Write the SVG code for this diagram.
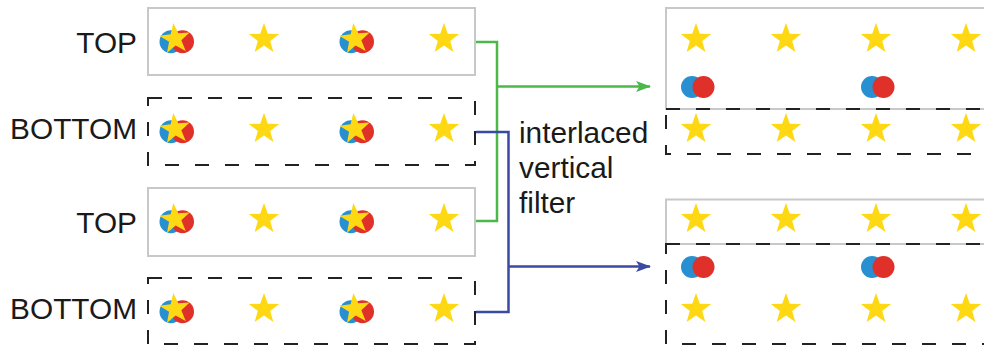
<svg xmlns="http://www.w3.org/2000/svg" xmlns:xlink="http://www.w3.org/1999/xlink" width="984" height="345" viewBox="0 0 984 345">
<style>
  .lbl { font-family: "Liberation Sans", Arial, sans-serif; font-size: 29.8px; fill: #1a1a1a; }
  .solid { fill: none; stroke: #c8c8c8; stroke-width: 2; }
  .dash { fill: none; stroke: #222; stroke-width: 2; stroke-dasharray: 14 16; }
  .star { fill: #ffd814; }
  .cb { fill: #2890d0; }
  .cr { fill: #e0302a; }
  .green { fill: none; stroke: #4cb848; stroke-width: 2.5; }
  .blue { fill: none; stroke: #3a4aa2; stroke-width: 2.5; }
</style>
<defs>
  <path id="star" d="M0,-16 L3.82,-5.26 L15.22,-4.94 L6.18,2.01 L9.4,12.94 L0,6.5 L-9.4,12.94 L-6.18,2.01 L-15.22,-4.94 L-3.82,-5.26 Z"/>
  <g id="mix">
    <circle class="cb" cx="-4" cy="2.7" r="11.5"/>
    <circle class="cr" cx="7.5" cy="2.7" r="11.5"/>
    <use xlink:href="#star" class="star" transform="rotate(-6)"/>
  </g>
  <g id="pair">
    <circle class="cb" cx="0" cy="0" r="11"/>
    <circle class="cr" cx="11.5" cy="0" r="11"/>
  </g>
  <marker id="ahG" markerWidth="15" markerHeight="11" refX="14" refY="5.5" orient="auto" markerUnits="userSpaceOnUse">
    <path d="M0,0 L15,5.5 L0,11 L3.5,5.5 Z" fill="#4cb848"/>
  </marker>
  <marker id="ahB" markerWidth="15" markerHeight="11" refX="14" refY="5.5" orient="auto" markerUnits="userSpaceOnUse">
    <path d="M0,0 L15,5.5 L0,11 L3.5,5.5 Z" fill="#3a4aa2"/>
  </marker>
</defs>
<rect width="984" height="345" fill="#fff"/>

<g id="label-top-1"><text class="lbl" x="137" y="52.5" text-anchor="end">TOP</text></g>
<g id="label-bottom-1"><text class="lbl" x="137" y="138.5" text-anchor="end">BOTTOM</text></g>
<g id="label-top-2"><text class="lbl" x="137" y="232.5" text-anchor="end">TOP</text></g>
<g id="label-bottom-2"><text class="lbl" x="137" y="318.5" text-anchor="end">BOTTOM</text></g>

<g id="field-top-1">
  <rect class="solid" x="148" y="8" width="327" height="67"/>
  <use xlink:href="#mix" x="175" y="39"/>
  <use xlink:href="#star" class="star" x="264" y="39"/>
  <use xlink:href="#mix" x="355" y="39"/>
  <use xlink:href="#star" class="star" x="444" y="39"/>
</g>
<g id="field-bottom-1">
  <rect class="dash" x="148" y="98" width="327" height="67"/>
  <use xlink:href="#mix" x="175" y="129"/>
  <use xlink:href="#star" class="star" x="264" y="129"/>
  <use xlink:href="#mix" x="355" y="129"/>
  <use xlink:href="#star" class="star" x="444" y="129"/>
</g>
<g id="field-top-2">
  <rect class="solid" x="148" y="188" width="327" height="68"/>
  <use xlink:href="#mix" x="175" y="219"/>
  <use xlink:href="#star" class="star" x="264" y="219"/>
  <use xlink:href="#mix" x="355" y="219"/>
  <use xlink:href="#star" class="star" x="444" y="219"/>
</g>
<g id="field-bottom-2">
  <rect class="dash" x="148" y="278" width="327" height="66"/>
  <use xlink:href="#mix" x="175" y="309"/>
  <use xlink:href="#star" class="star" x="264" y="309"/>
  <use xlink:href="#mix" x="355" y="309"/>
  <use xlink:href="#star" class="star" x="444" y="309"/>
</g>

<g id="filter-label">
  <text class="lbl" x="519" y="143">interlaced</text>
  <text class="lbl" x="519" y="178">vertical</text>
  <text class="lbl" x="519" y="213">filter</text>
</g>

<g id="output-top">
  <rect class="solid" x="666" y="8" width="340" height="101"/>
  <rect class="dash" x="666" y="109" width="340" height="45"/>
  <use xlink:href="#star" class="star" x="696" y="39"/>
  <use xlink:href="#star" class="star" x="786" y="39"/>
  <use xlink:href="#star" class="star" x="876" y="39"/>
  <use xlink:href="#star" class="star" x="966" y="39"/>
  <use xlink:href="#pair" x="692" y="87"/>
  <use xlink:href="#pair" x="872" y="87"/>
  <use xlink:href="#star" class="star" x="696" y="129"/>
  <use xlink:href="#star" class="star" x="786" y="129"/>
  <use xlink:href="#star" class="star" x="876" y="129"/>
  <use xlink:href="#star" class="star" x="966" y="129"/>
</g>
<g id="output-bottom">
  <rect class="solid" x="666" y="199.5" width="340" height="44.5"/>
  <rect class="dash" x="666" y="244" width="340" height="100"/>
  <use xlink:href="#star" class="star" x="696" y="219"/>
  <use xlink:href="#star" class="star" x="786" y="219"/>
  <use xlink:href="#star" class="star" x="876" y="219"/>
  <use xlink:href="#star" class="star" x="966" y="219"/>
  <use xlink:href="#pair" x="692" y="267"/>
  <use xlink:href="#pair" x="872" y="267"/>
  <use xlink:href="#star" class="star" x="696" y="309"/>
  <use xlink:href="#star" class="star" x="786" y="309"/>
  <use xlink:href="#star" class="star" x="876" y="309"/>
  <use xlink:href="#star" class="star" x="966" y="309"/>
</g>

<g id="connectors">
  <polyline class="green" points="476,42 497,42 497,221 476,221"/>
  <line class="green" x1="497" y1="86.5" x2="650" y2="86.5" marker-end="url(#ahG)"/>
  <polyline class="blue" points="476,132 508.5,132 508.5,312 476,312"/>
  <line class="blue" x1="508.5" y1="266.5" x2="650" y2="266.5" marker-end="url(#ahB)"/>
</g>
</svg>
